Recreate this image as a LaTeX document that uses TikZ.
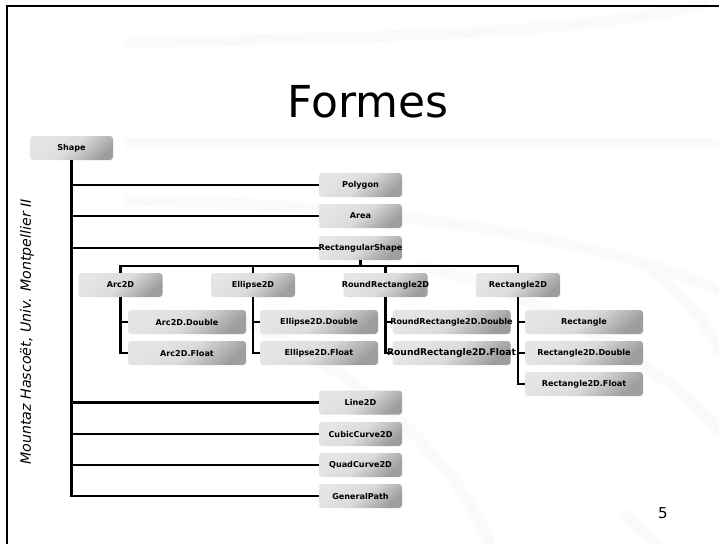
\documentclass[tikz,border=0pt]{standalone}
\usepackage{fontspec}
\setmainfont{DejaVu Sans}[ItalicFont={DejaVu Sans Oblique},BoldFont={DejaVu Sans Bold}]
\begin{document}
\begin{tikzpicture}[x=1pt,y=-1pt,
  cls/.style={rounded corners=3pt, inner sep=0pt, minimum width=83pt, minimum height=24pt,
    font=\fontsize{8.1}{10}\selectfont\bfseries,
    top color=black!10, bottom color=black!38, middle color=black!14, shading angle=40},
  wide/.style={cls, minimum width=118pt},
  mid/.style={cls, minimum width=84pt},
  conn/.style={line width=2.5pt},
  swoosh/.style={line width=11pt, black!2, line cap=round}]
\useasboundingbox (0,0) rectangle (719,544);
\fill[white] (0,0) rectangle (719,544);
% faint background swooshes
\draw[swoosh] (130,42) .. controls (420,38) and (600,30) .. (705,4);
\draw[swoosh] (130,143) -- (719,143);
\draw[swoosh] (130,200) .. controls (400,205) and (600,240) .. (719,290);
\draw[swoosh] (420,265) .. controls (560,300) and (680,380) .. (719,430);
\draw[swoosh] (240,320) .. controls (380,380) and (460,470) .. (490,544);
\draw[swoosh] (650,270) .. controls (690,300) and (710,330) .. (719,350);
\draw[swoosh] (625,515) -- (655,544);
% frame
\draw[line width=2.5pt] (7,544) -- (7,6) -- (719,6);
% title
\node[font=\fontsize{44}{50}\selectfont, anchor=base] (title) at (368,117) {Formes};
% side text and page number
\node[rotate=90, font=\fontsize{14.2}{16}\selectfont\itshape] (author) at (27,332) {Mountaz Hascoët, Univ. Montpellier II};
\node[font=\fontsize{15}{17}\selectfont] (page) at (663,513) {5};
% nodes
\node[cls] (shape) at (71.5,148) {Shape};
\node[cls] (polygon) at (360.5,185) {Polygon};
\node[cls] (area) at (360.5,216) {Area};
\node[cls] (rshape) at (360.5,248) {\makebox[0pt]{RectangularShape}};
\node[mid] (arc) at (120.5,285) {Arc2D};
\node[mid] (ellipse) at (253,285) {Ellipse2D};
\node[mid] (rrect) at (385.5,285) {\makebox[0pt]{RoundRectangle2D}};
\node[mid] (rect2d) at (518,285) {Rectangle2D};
\node[wide] (arcD) at (187,322) {Arc2D.Double};
\node[wide] (arcF) at (187,353) {Arc2D.Float};
\node[wide] (ellD) at (319,322) {Ellipse2D.Double};
\node[wide] (ellF) at (319,353) {Ellipse2D.Float};
\node[wide] (rrD) at (451.5,322) {\makebox[0pt]{RoundRectangle2D.Double}};
\node[wide] (rrF) at (451.5,353) {\makebox[0pt]{\fontsize{9.2}{11}\selectfont RoundRectangle2D.Float}};
\node[wide] (rectA) at (584,322) {Rectangle};
\node[wide] (rectD) at (584,353) {Rectangle2D.Double};
\node[wide] (rectF) at (584,384) {Rectangle2D.Float};
\node[cls] (line2d) at (360.5,402.5) {Line2D};
\node[cls] (cubic) at (360.5,434) {CubicCurve2D};
\node[cls] (quad) at (360.5,465) {QuadCurve2D};
\node[cls] (gpath) at (360.5,496) {GeneralPath};
% connectors: Shape trunk
\draw[conn] (shape.south) -- (shape.south |- gpath.west) -- (gpath.west);
\foreach \n in {polygon,area,rshape,line2d,cubic,quad}
  \draw[conn] (shape.south |- \n.west) -- (\n.west);
% RectangularShape bus
\coordinate (bus) at (360.5,266);
\draw[conn] (rshape.south) -- (bus);
\draw[conn] (arc.north) |- (bus) -| (rect2d.north);
\draw[conn] (ellipse.north) -- (ellipse.north |- bus);
\draw[conn] (rrect.north) -- (rrect.north |- bus);
% second level
\draw[conn] (arc.south) |- (arcF.west);
\draw[conn] (arc.south |- arcD.west) -- (arcD.west);
\draw[conn] (ellipse.south) |- (ellF.west);
\draw[conn] (ellipse.south |- ellD.west) -- (ellD.west);
\draw[conn] (rrect.south) |- (rrF.west);
\draw[conn] (rrect.south |- rrD.west) -- (rrD.west);
\draw[conn] (rect2d.south) |- (rectF.west);
\draw[conn] (rect2d.south |- rectA.west) -- (rectA.west);
\draw[conn] (rect2d.south |- rectD.west) -- (rectD.west);
\end{tikzpicture}
\end{document}
